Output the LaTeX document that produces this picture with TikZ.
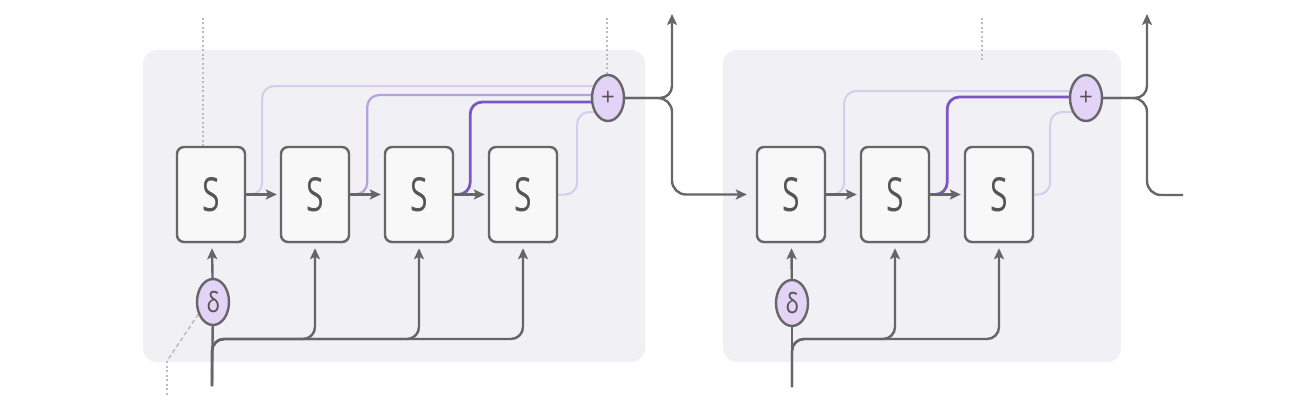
\documentclass[tikz,border=0pt]{standalone}
\usepackage{fontspec}
\usepackage{graphicx}
\setmainfont{Open Sans}
\usetikzlibrary{shapes.geometric,arrows.meta,calc,shadows}
\definecolor{panelbg}{HTML}{F0F0F5}
\definecolor{boxfill}{HTML}{F8F8F8}
\definecolor{edge}{HTML}{666666}
\definecolor{txt}{HTML}{555555}
\definecolor{pl}{HTML}{D6CCEE}
\definecolor{pm}{HTML}{B5A0E0}
\definecolor{pd}{HTML}{7D56C2}
\definecolor{nodefill}{HTML}{E2D3F7}
\definecolor{dotc}{HTML}{BBBBBB}
\pgfdeclarelayer{back}
\pgfdeclarelayer{wires}
\pgfsetlayers{back,wires,main}
\tikzset{
 panel/.style={fill=panelbg, draw=none, rounded corners=14pt},
 sbox/.style={draw=edge, fill=boxfill, line width=2.4pt, rounded corners=7pt,
   minimum width=68pt, minimum height=95pt, inner sep=0pt, text=txt,
   font=\fontsize{47}{47}\selectfont,
   drop shadow={opacity=0.12, shadow xshift=1pt, shadow yshift=-2pt}},
 opnode/.style={ellipse, draw=edge, fill=nodefill, line width=2.4pt,
   minimum width=32pt, minimum height=46pt, inner sep=0pt, text=txt},
 wire/.style={draw=edge, line width=2.4pt},
 arr/.style={-{Stealth[length=11pt,width=10pt,inset=2.5pt]}},
 plight/.style={draw=pl, line width=2pt, rounded corners=12pt},
 pmid/.style={draw=pm, line width=2.2pt, rounded corners=12pt},
 pdark/.style={draw=pd, line width=2.8pt, rounded corners=12pt},
 guide/.style={draw=dotc, line width=1.6pt, dash pattern=on 2pt off 2.5pt},
 guidedash/.style={draw=dotc, line width=1.5pt, dash pattern=on 4pt off 3pt},
}
\newcommand{\Sgl}{\scalebox{0.68}[1]{S}}
\newcommand{\Dgl}{\fontsize{28}{28}\selectfont\scalebox{0.8}[1]{δ}}
\newcommand{\Pgl}{\fontsize{24}{24}\selectfont +}
\begin{document}
\begin{tikzpicture}[x=1pt,y=-1pt]
\useasboundingbox (0,0) rectangle (1300,404);
% panels
\begin{pgfonlayer}{back}
\path[panel] (143,50) rectangle (645,362);
\path[panel] (723,50) rectangle (1121,362);
\end{pgfonlayer}

% nodes panel 1
\node[sbox] (a1) at (211,194.5) {\Sgl};
\node[sbox] (a2) at (315,194.5) {\Sgl};
\node[sbox] (a3) at (419,194.5) {\Sgl};
\node[sbox] (a4) at (523,194.5) {\Sgl};
\node[opnode] (da) at (213,302) {\Dgl};
\node[opnode] (pa) at (608,98) {\Pgl};
% nodes panel 2
\node[sbox] (b1) at (791,194.5) {\Sgl};
\node[sbox] (b2) at (895,194.5) {\Sgl};
\node[sbox] (b3) at (999,194.5) {\Sgl};
\node[opnode] (db) at (792,303) {\Dgl};
\node[opnode] (pb) at (1086,98) {\Pgl};

% free ends
\coordinate (ina) at (212,386);
\coordinate (inb) at (792,387);
\coordinate (outa) at (672,14);
\coordinate (outb) at (1147,14);
\coordinate (endb) at (1183,195);
\coordinate (ga) at (203,18);
\coordinate (gb) at (607,18);
\coordinate (gc) at (982,18);
\coordinate (gd) at (982,62);
\coordinate (ge) at (167,361);
\coordinate (gf) at (167,396);

\begin{pgfonlayer}{wires}
% guides
\draw[guide] (ga) -- (ga |- a1.north);
\draw[guide] (gb) -- (gb |- pa.north);
\draw[guide] (gc) -- (gd);
\draw[guidedash] (da.220) -- (ge);
\draw[guide] (ge) -- (gf);

% purple paths panel 1
\draw[plight] (a1.east) -- ++(16,0) |- ([yshift=12pt]pa.center);
\draw[pmid]   (a2.east) -- ++(17,0) |- ([yshift=3pt]pa.center);
\draw[pdark]  (a3.east) -- ++(16,0) |- ([yshift=-4pt]pa.center);
\draw[plight] (a4.east) -- ++(19,0) |- ([yshift=-14pt]pa.center);
% purple paths panel 2
\draw[plight] (b1.east) -- ++(18,0) |- ([yshift=7pt]pb.center);
\draw[pdark]  (b2.east) -- ++(17,0) |- ([yshift=1pt]pb.center);
\draw[plight] (b3.east) -- ++(16,0) |- ([yshift=-14pt]pb.center);

% chain arrows
\draw[wire,arr,shorten >=3pt] (a1) -- (a2);
\draw[wire,arr,shorten >=3pt] (a2) -- (a3);
\draw[wire,arr,shorten >=3pt] (a3) -- (a4);
\draw[wire,arr,shorten >=3pt] (b1) -- (b2);
\draw[wire,arr,shorten >=3pt] (b2) -- (b3);

% inputs panel 1
\draw[wire] (ina) -- (da);
\draw[wire,arr,shorten >=5pt] (da) -- (a1);
\draw[wire,arr,shorten >=5pt,rounded corners=12pt] (ina) -- ++(0,-47) -| (a2.south);
\draw[wire,arr,shorten >=5pt,rounded corners=12pt] (ina) -- ++(0,-47) -| (a3.south);
\draw[wire,arr,shorten >=5pt,rounded corners=12pt] (ina) -- ++(0,-47) -| (a4.south);
% inputs panel 2
\draw[wire] (inb) -- (db);
\draw[wire,arr,shorten >=5pt] (db) -- (b1);
\draw[wire,arr,shorten >=5pt,rounded corners=12pt] (inb) -- ++(0,-48) -| (b2.south);
\draw[wire,arr,shorten >=5pt,rounded corners=12pt] (inb) -- ++(0,-48) -| (b3.south);

% outputs
\draw[wire,arr,rounded corners=12pt] (pa.east) -| (outa);
\draw[wire,arr,rounded corners=14pt,shorten >=9pt] (pa.east) -- (outa |- pa.east) |- (b1.west);
\draw[wire,arr,rounded corners=12pt] (pb.east) -| (outb);
\draw[wire,rounded corners=14pt] (pb.east) -- (outb |- pb.east) |- (endb);
\end{pgfonlayer}
\end{tikzpicture}
\end{document}
